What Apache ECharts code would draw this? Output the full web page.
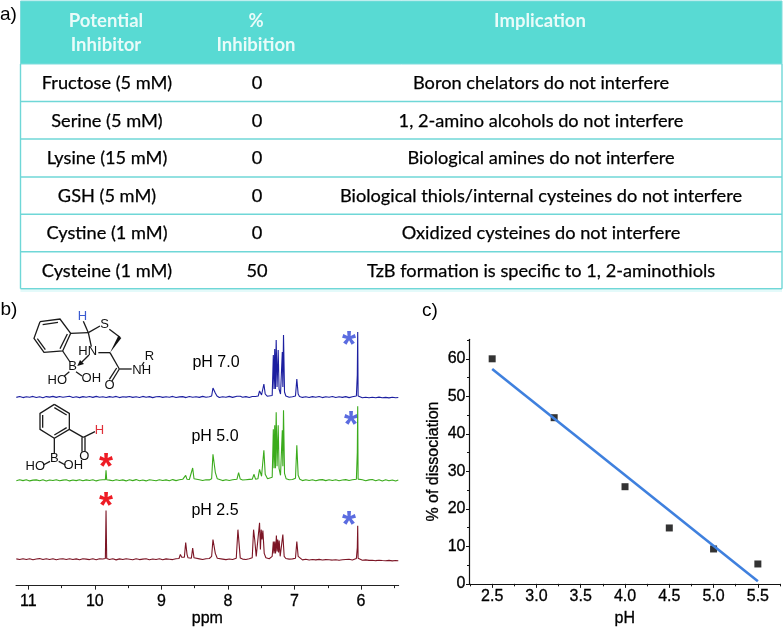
<!DOCTYPE html>
<html>
<head>
<meta charset="utf-8">
<style>html,body{margin:0;padding:0;background:#fff}#c{width:784px;height:628px}</style>
<script src="https://cdn.jsdelivr.net/npm/echarts@6/dist/echarts.min.js"></script>
</head>
<body>
<div id="c"></div>
<script>
// ---------- Panel a: table ----------
const tableHeader = [["Potential", "Inhibitor"], ["%", "Inhibition"], ["Implication"]];
const inhibitors = ["Fructose (5 mM)", "Serine (5 mM)", "Lysine (15 mM)", "GSH (5 mM)", "Cystine (1 mM)", "Cysteine (1 mM)"];
const inhibition = ["0", "0", "0", "0", "0", "50"];
const implications = [
  "Boron chelators do not interfere",
  "1, 2-amino alcohols do not interfere",
  "Biological amines do not interfere",
  "Biological thiols/internal cysteines do not interfere",
  "Oxidized cysteines do not interfere",
  "TzB formation is specific to 1, 2-aminothiols"
];

// ---------- Panel c: % dissociation vs pH ----------
const pHValues = [2.5, 3.2, 4.0, 4.5, 5.0, 5.5];
const dissociation = [60, 44.3, 25.9, 14.9, 9.3, 5.3];
const fitPH = [2.5, 5.5];
const fitDissociation = [57.3, 0.7];
const pHTicks = [2.5, 3.0, 3.5, 4.0, 4.5, 5.0, 5.5];
const pHMinorTicks = [2.25, 2.75, 3.25, 3.75, 4.25, 4.75, 5.25, 5.75];
const pctTicks = [0, 10, 20, 30, 40, 50, 60];
const pctMinorTicks = [5, 15, 25, 35, 45, 55, 65];

// ---------- Panel b: NMR spectra (ppm, intensity) ----------
const ppmTicks = [6, 7, 8, 9, 10, 11];
const ppmMinorTicks = [5.5, 6.5, 7.5, 8.5, 9.5, 10.5];
const baselinePpm = [11.18,11.13,11.08,11.03,10.98,10.93,10.88,10.83,10.78,10.73,10.68,10.63,10.58,10.53,10.48,10.43,10.38,10.33,10.28,10.23,10.18,10.13,10.08,10.03,9.98,9.93,9.88,9.83,9.78,9.73,9.68,9.63,9.58,9.53,9.48,9.43,9.38,9.33,9.28,9.23,9.18,9.13,9.08,9.03,8.98,8.93,8.88,8.83,8.78,8.73,8.68,8.63,8.58,8.53,8.48,8.43,8.38,8.33,8.28,8.23,8.18,8.13,8.08,8.03,7.98,7.93,7.88,7.83,7.78,7.73,7.68,7.63,7.58,7.53,7.48,7.43,7.38,7.33,7.28,7.23,7.18,7.13,7.08,7.03,6.98,6.93,6.88,6.83,6.78,6.73,6.68,6.63,6.58,6.53,6.48,6.43,6.38,6.33,6.28,6.23,6.18,6.13,6.08,6.03,5.98,5.93,5.88,5.83,5.78,5.73,5.68,5.63,5.58,5.53,5.48,5.44];
const noiseBlue = [-0.4,0.5,-0.6,0.3,-0.2,0.6,-0.5,0.2,-0.7,0.4,-0.1,0.6,-0.4,0.5,-0.3,0.2,0.7,-0.5,0.3,-0.6,0.4,-0.2,0.5,-0.4,0.6,-0.3,0.2,-0.5,0.4,-0.2,0.6,-0.6,0.3,-0.1,0.5,-0.4,0.2,-0.5,0.6,-0.3,0.4,-0.6,0.2,0.5,-0.4,0.3,-0.2,0.6,-0.5,0.1,0.4,-0.6,0.5,-0.2,0.3,-0.4,0.6,-0.3,0.2,-0.1,0.4,-0.5,0.3,-0.2,0.6,-0.4,0.2,0.5,-0.3,0.4,-0.5,0.2,0.6,-0.2,0.5,-0.3,0.2,0.8,0.5,1.2,0.8,0.4,-0.3,0.3,0.1,0.5,-0.4,0.2,-0.5,0.4,-0.3,0.5,-0.6,0.3,-0.2,0.5,-0.5,0.2,-0.4,0.4,-0.6,0.3,-0.2,-0.5,-0.7,-0.2,-0.8,-0.3,-0.7,-0.1,-0.8,-0.4,-0.9,-0.2,-0.7,-0.5];
const noiseGreen = [-0.5,0.5,-0.3,0.6,-0.6,0.2,0.4,-0.5,0.5,-0.7,0.3,-0.2,0.6,-0.4,0.2,0.5,-0.6,0.3,-0.3,0.6,-0.5,0.4,-0.2,0.5,-0.6,0.3,0.6,-0.4,0.2,-0.5,0.6,-0.2,0.4,-0.6,0.5,-0.3,0.7,-0.4,0.3,-0.6,0.5,0.1,-0.5,0.6,-0.2,0.4,-0.4,0.7,-0.3,0.5,1.0,0.6,0.8,0.3,-0.3,0.5,-0.2,0.6,0.4,1.0,0.8,0.5,-0.3,0.6,-0.2,0.5,0.4,0.9,0.3,0.6,0.9,1.2,1.0,1.5,1.6,1.0,0.6,1.2,2.0,2.5,2.0,1.2,0.5,0.8,0.6,0.2,-0.3,0.6,-0.2,0.5,-0.4,0.4,0.7,-0.3,0.5,-0.2,0.6,-0.4,0.3,0.7,-0.2,0.5,0.3,-0.1,0.6,-0.5,0.4,0.8,-0.4,0.6,-0.6,0.5,-0.5,0.3,-0.7,0.4];
const noiseMaroon = [0.4,-0.3,0.6,-0.2,0.5,-0.4,0.3,0.7,-0.3,0.5,-0.2,0.6,-0.4,0.3,0.5,-0.3,0.6,-0.2,0.4,-0.5,0.6,0.2,-0.3,0.5,-0.4,0.6,0.3,0.4,-0.2,0.5,-0.6,0.4,-0.2,0.6,0.1,-0.4,0.5,-0.3,0.2,0.6,-0.4,0.3,-0.2,0.5,-0.5,0.4,0.1,-0.3,0.5,0.8,1.0,0.6,0.8,0.4,-0.2,0.4,-0.3,0.5,0.8,1.0,1.2,0.5,0.2,-0.3,0.3,-0.2,0.4,0.8,0.2,-0.2,0.5,0.8,1.0,1.5,1.6,0.8,0.6,1.5,2.0,2.2,1.5,0.6,0.2,0.4,0.2,-0.3,-0.6,0.0,-0.7,-0.2,-0.6,-0.1,-0.8,-0.3,-0.5,-0.8,-0.4,-0.9,-0.5,-0.2,0.1,-0.7,-0.4,-0.8,-1.0,-0.6,-1.1,-0.9,-1.4,-1.0,-1.3,-1.5,-1.1,-1.6,-1.3,-1.5];

const peaksBlue = [
  [8.245,1],[8.225,9],[8.205,10],[8.19,4],[8.165,1],
  [7.865,0.8],[7.84,2.6],[7.815,0.8],
  [7.635,0.5],[7.61,2.2],[7.585,0.5],
  [7.545,1],[7.525,6],[7.495,2],[7.475,2.5],[7.46,13],[7.44,3],[7.41,0.8],
  [7.335,1.5],[7.318,42],[7.308,8],[7.297,48],[7.287,8],[7.275,57],[7.262,10],[7.245,47],[7.232,8],[7.21,3],[7.195,2],
  [7.183,45],[7.175,10],[7.165,62],[7.15,5],[7.13,1],
  [6.985,1],[6.965,18],[6.945,3],[6.925,0.6],
  [6.07,1],[6.056,22],[6.05,65],[6.044,1],[6.03,0.3]
];
const peaksGreen = [
  [9.842,0.6],[9.832,10],[9.822,0.6],
  [8.655,0.8],[8.635,5],[8.615,1],
  [8.55,1],[8.53,12.3],[8.51,1.5],
  [8.245,1.5],[8.225,26],[8.205,28],[8.19,8],[8.16,1.5],
  [7.865,1],[7.84,7.7],[7.815,1.2],
  [7.635,1],[7.61,6],[7.585,1.2],
  [7.55,1.5],[7.525,11],[7.495,4],[7.478,6],[7.46,30],[7.44,6],[7.405,1.5],
  [7.335,3],[7.318,51],[7.308,12],[7.297,55],[7.287,12],[7.275,68],[7.262,14],[7.245,55],[7.232,12],[7.21,5],[7.195,3],
  [7.183,50],[7.175,14],[7.165,70],[7.15,7],[7.125,1.5],
  [6.985,2],[6.965,35],[6.945,5],[6.92,1],
  [6.07,1],[6.056,28],[6.05,74],[6.044,1.2],[6.03,0.5]
];
const peaksMaroon = [
  [9.842,0.8],[9.832,49.3],[9.822,0.8],
  [8.735,0.8],[8.715,5],[8.695,2],
  [8.655,2],[8.635,17],[8.615,5],[8.6,1.5],
  [8.55,1],[8.53,11.3],[8.51,1.5],
  [8.245,3],[8.225,20],[8.205,22],[8.19,6],[8.16,1],
  [7.875,1],[7.85,30],[7.835,30],[7.815,1.2],
  [7.635,1.5],[7.615,30],[7.598,20],[7.575,3],
  [7.545,4],[7.525,37],[7.512,10],[7.5,30],[7.488,20],[7.475,29],[7.455,6],[7.43,1.5],
  [7.335,3],[7.318,18],[7.308,6],[7.297,18],[7.285,6],[7.272,24],[7.262,8],[7.252,20],[7.24,7],[7.23,19],[7.215,3],[7.2,4],
  [7.175,25],[7.155,3],[7.13,0.8],
  [6.985,1],[6.965,18],[6.945,3],[6.925,1],
  [6.07,0.8],[6.056,12],[6.05,34],[6.044,1],[6.03,0.5]
];

const spectrumColors = ["#1c1fa0", "#3bab1c", "#7c1525"];

// ---------- Molecule line art (in 3x-zoomed local units) ----------
const thiazBonds = [
  [[60,65],[120,57],[152,100],[128,153],[72,157],[42,115],[60,65]],
  [[68,74],[114,67]], [[142,102],[120,146]], [[52,116],[76,149]],
  [[152,100],[205,98]], [[205,98],[190,64]], [[205,98],[240,78]], [[268,88],[300,112]],
  [[270,158],[235,158]], [[205,98],[214,140]], [[270,158],[298,207]],
  [[298,207],[335,207]], [[298,207],[276,243]], [[290,204],[268,238]],
  [[128,153],[150,186]], [[207,165],[185,187]], [[148,215],[133,228]], [[168,215],[186,228]],
  [[365,198],[372,186]]
];
const thiazWedge = [[270,158],[295,107],[304,114]];
const thiazArrow = [[172,198],[180,180],[192,192]];
const boronicBonds = [
  [[103,13],[148,40],[148,88],[103,115],[60,88],[60,40],[103,13]],
  [[103,23],[140,45]], [[140,83],[103,105]], [[68,83],[68,45]],
  [[148,88],[190,112]], [[186,112],[186,155]], [[195,112],[195,155]], [[190,112],[225,95]],
  [[103,115],[103,160]], [[90,184],[70,195]], [[116,184],[136,195]]
];

function build() {
  const g = [];
  const LAT = "Lato", ARI = "Liberation Sans";
  const txt = (t, x, y, size, opt) => g.push(Object.assign({
    type: "text", x, y, silent: true,
    style: Object.assign({ text: t, fill: "#000", font: `${(opt&&opt.weight)||"normal"} ${size}px "${(opt&&opt.family)||ARI}"`, textAlign: "center", textVerticalAlign: "middle" }, (opt&&opt.style)||{})
  }, (opt&&opt.el)||{}));
  const hline = (x1, x2, y, c, w) => g.push({ type: "line", silent: true, shape: { x1, y1: y, x2, y2: y }, style: { stroke: c, lineWidth: w } });

  // Panel a
  const L = 20.5, R = 782, H = 64, colX = [106, 256, 540];
  const rowY = [64, 101.5, 139, 177, 214.3, 251.7, 288.7];
  const edge = "#6fd7d7";
  g.push({ type: "rect", silent: true, shape: { x: L, y: 1, width: R - L, height: H - 1 }, style: { fill: "#58dad3", stroke: "#7fdcdc", lineWidth: 1 } });
  hline(L, R, 291, "#e4fafa", 2);
  rowY.slice(1).forEach(y => hline(L, R, y, edge, 1.6));
  g.push({ type: "line", silent: true, shape: { x1: L, y1: H, x2: L, y2: rowY[6] }, style: { stroke: edge, lineWidth: 1.4 } });
  g.push({ type: "line", silent: true, shape: { x1: R, y1: H, x2: R, y2: rowY[6] }, style: { stroke: edge, lineWidth: 1.4 } });
  tableHeader.forEach((lines, c) => lines.forEach((t, i) =>
    txt(t, colX[c], 21 + i * 24, 18.5, { family: LAT, weight: "bold", style: { fill: "#e9fbf9" } })));
  inhibitors.forEach((t, r) => {
    const y = (rowY[r] + rowY[r + 1]) / 2 + 0.5;
    const s = { stroke: "#000", lineWidth: 0.25 };
    txt(t, colX[0] + 1, y, 18.2, { family: LAT, style: s });
    txt(inhibition[r], colX[1] + 1, y, 18.2, { family: LAT, style: s });
    txt(implications[r], colX[2] + 1, y, 18.2, { family: LAT, style: s });
  });

  // Panel letters
  txt("a)", 8.5, 15, 19);
  txt("b)", 9, 310, 19);
  txt("c)", 430, 311, 19);

  // Spectrum labels
  txt("pH 7.0", 216, 363, 16);
  txt("pH 5.0", 215, 437, 16);
  txt("pH 2.5", 215, 511, 16);

  // Asterisks
  const star = (x, y, c) => txt("*", x, y + 8, 36, { weight: "bold", style: { fill: c } });
  star(349, 339, "#5b6ce0"); star(351, 419, "#5b6ce0"); star(349, 519, "#5b6ce0");
  star(106, 461, "#ee1c25"); star(106, 500, "#ee1c25");

  // Molecules
  const INK = "#1a1a1a";
  const mol = (bonds, ox, oy) => bonds.forEach(b => g.push({
    type: "polyline", silent: true,
    shape: { points: b.map(p => [ox + p[0] / 3, oy + p[1] / 3]) },
    style: { stroke: INK, lineWidth: 1.3, fill: null }
  }));
  const poly = (pts, ox, oy) => g.push({
    type: "polygon", silent: true,
    shape: { points: pts.map(p => [ox + p[0] / 3, oy + p[1] / 3]) }, style: { fill: "#111" }
  });
  mol(thiazBonds, 20, 300);
  poly(thiazWedge, 20, 300); poly(thiazArrow, 20, 300);
  const atom = (t, zx, zy, ox, oy, c) => txt(t, ox + zx / 3, oy + zy / 3, 13, { style: { fill: c || "#111" } });
  atom("H", 187, 48, 20, 300, "#3b5bd0"); atom("S", 254, 74, 20, 300);
  atom("HN", 203, 155, 20, 300); atom("B", 158, 200, 20, 300);
  atom("HO", 112, 241, 20, 300); atom("OH", 214, 235, 20, 300);
  atom("O", 269, 257, 20, 300); atom("NH", 365, 212, 20, 300); atom("R", 388, 170, 20, 300);

  mol(boronicBonds, 20, 400);
  atom("H", 238, 90, 20, 400, "#e0303a"); atom("O", 193, 170, 20, 400);
  atom("B", 103, 175, 20, 400); atom("HO", 46, 199, 20, 400); atom("OH", 160, 197, 20, 400);
  return g;
}

const merge = (noise, peaks) => {
  const base = baselinePpm.map((p, i) => [p, noise[i]])
    .filter(pt => !peaks.some(q => Math.abs(q[0] - pt[0]) < 0.02));
  return base.concat(peaks).sort((a, b) => b[0] - a[0]);
};

const BLK = "#000";
const AF = { fontFamily: "Liberation Sans", fontSize: 16, color: BLK, textBorderColor: "#000", textBorderWidth: 0.3 };
const nmrX = { type: "value", min: 5.434, max: 11.185, inverse: true, show: false };

const xAxes = [
  Object.assign({ gridIndex: 0 }, nmrX),
  Object.assign({ gridIndex: 1 }, nmrX),
  { gridIndex: 2, type: "value", min: 5.434, max: 11.185, inverse: true, position: "bottom",
    axisLine: { show: true, onZero: false, lineStyle: { color: "#222", width: 1 } },
    axisTick: { show: true, length: 4, customValues: ppmTicks, lineStyle: { color: "#222" } },
    axisLabel: Object.assign({ customValues: ppmTicks, margin: 8, showMinLabel: true, showMaxLabel: true }, AF),
    splitLine: { show: false },
    name: "ppm", nameLocation: "middle", nameGap: 18,
    nameTextStyle: AF
  },
  { gridIndex: 2, type: "value", min: 5.434, max: 11.185, inverse: true, position: "bottom",
    axisLine: { show: false, onZero: false },
    axisTick: { show: true, length: 2.5, customValues: ppmMinorTicks, lineStyle: { color: "#222" } },
    axisLabel: { show: false }, splitLine: { show: false } },
  { gridIndex: 3, type: "value", min: 2.244, max: 5.75, position: "bottom",
    axisLine: { show: true, onZero: false, lineStyle: { color: "#111", width: 1.2 } },
    axisTick: { show: true, length: 4, customValues: pHTicks, lineStyle: { color: "#111" } },
    axisLabel: Object.assign({ customValues: pHTicks, margin: 5, formatter: v => v.toFixed(1) }, AF),
    splitLine: { show: false },
    name: "pH", nameLocation: "middle", nameGap: 27, nameTextStyle: AF
  },
  { gridIndex: 3, type: "value", min: 2.244, max: 5.75, position: "bottom",
    axisLine: { show: false, onZero: false },
    axisTick: { show: true, length: 2.5, customValues: pHMinorTicks, lineStyle: { color: "#111" } },
    axisLabel: { show: false }, splitLine: { show: false } }
];
const hiddenY = (i, min) => ({ gridIndex: i, type: "value", min, max: 80, show: false, splitLine: { show: false } });
const yAxes = [
  hiddenY(0, -5), hiddenY(1, -5), hiddenY(2, -26.7),
  { gridIndex: 3, type: "value", min: 0, max: 65.2, position: "left",
    axisLine: { show: true, onZero: false, lineStyle: { color: "#111", width: 1.2 } },
    axisTick: { show: true, length: 3.5, customValues: pctTicks, lineStyle: { color: "#111" } },
    axisLabel: Object.assign({ customValues: pctTicks, margin: 4 }, AF),
    splitLine: { show: false },
    name: "% of dissociation", nameLocation: "middle", nameGap: 28, nameRotate: 90, nameTextStyle: AF
  },
  { gridIndex: 3, type: "value", min: 0, max: 65.2, position: "left",
    axisLine: { show: false, onZero: false },
    axisTick: { show: true, length: 2.5, customValues: pctMinorTicks, lineStyle: { color: "#111" } },
    axisLabel: { show: false }, splitLine: { show: false } }
];

const spectrum = (i, data) => ({
  type: "line", xAxisIndex: i, yAxisIndex: i, data, showSymbol: false, smooth: false, silent: true,
  clip: false, lineStyle: { color: spectrumColors[i], width: 1.1 }, itemStyle: { color: spectrumColors[i] }
});

const chart = echarts.init(document.getElementById("c"), null, { renderer: "canvas" });
chart.setOption({
  backgroundColor: "#fff",
  animation: false,
  grid: [
    { left: 16, right: 784 - 398.7, top: 317, height: 85 },
    { left: 16, right: 784 - 398.7, top: 400.3, height: 85 },
    { left: 16, right: 784 - 398.7, top: 480.3, height: 106.7 },
    { left: 469.5, right: 4, top: 339.3, height: 246 }
  ],
  xAxis: xAxes,
  yAxis: yAxes,
  series: [
    spectrum(0, merge(noiseBlue, peaksBlue)),
    spectrum(1, merge(noiseGreen, peaksGreen)),
    spectrum(2, merge(noiseMaroon, peaksMaroon)),
    { type: "scatter", xAxisIndex: 4, yAxisIndex: 3, symbol: "rect", symbolSize: 7, z: 3, silent: true,
      data: pHValues.map((x, i) => [x, dissociation[i]]), itemStyle: { color: "#000" } },
    { type: "line", xAxisIndex: 4, yAxisIndex: 3, showSymbol: false, z: 4, silent: true,
      data: fitPH.map((x, i) => [x, fitDissociation[i]]), lineStyle: { color: "#3f80de", width: 2.6 } }
  ],
  graphic: { elements: build() }
});
</script>
</body>
</html>
